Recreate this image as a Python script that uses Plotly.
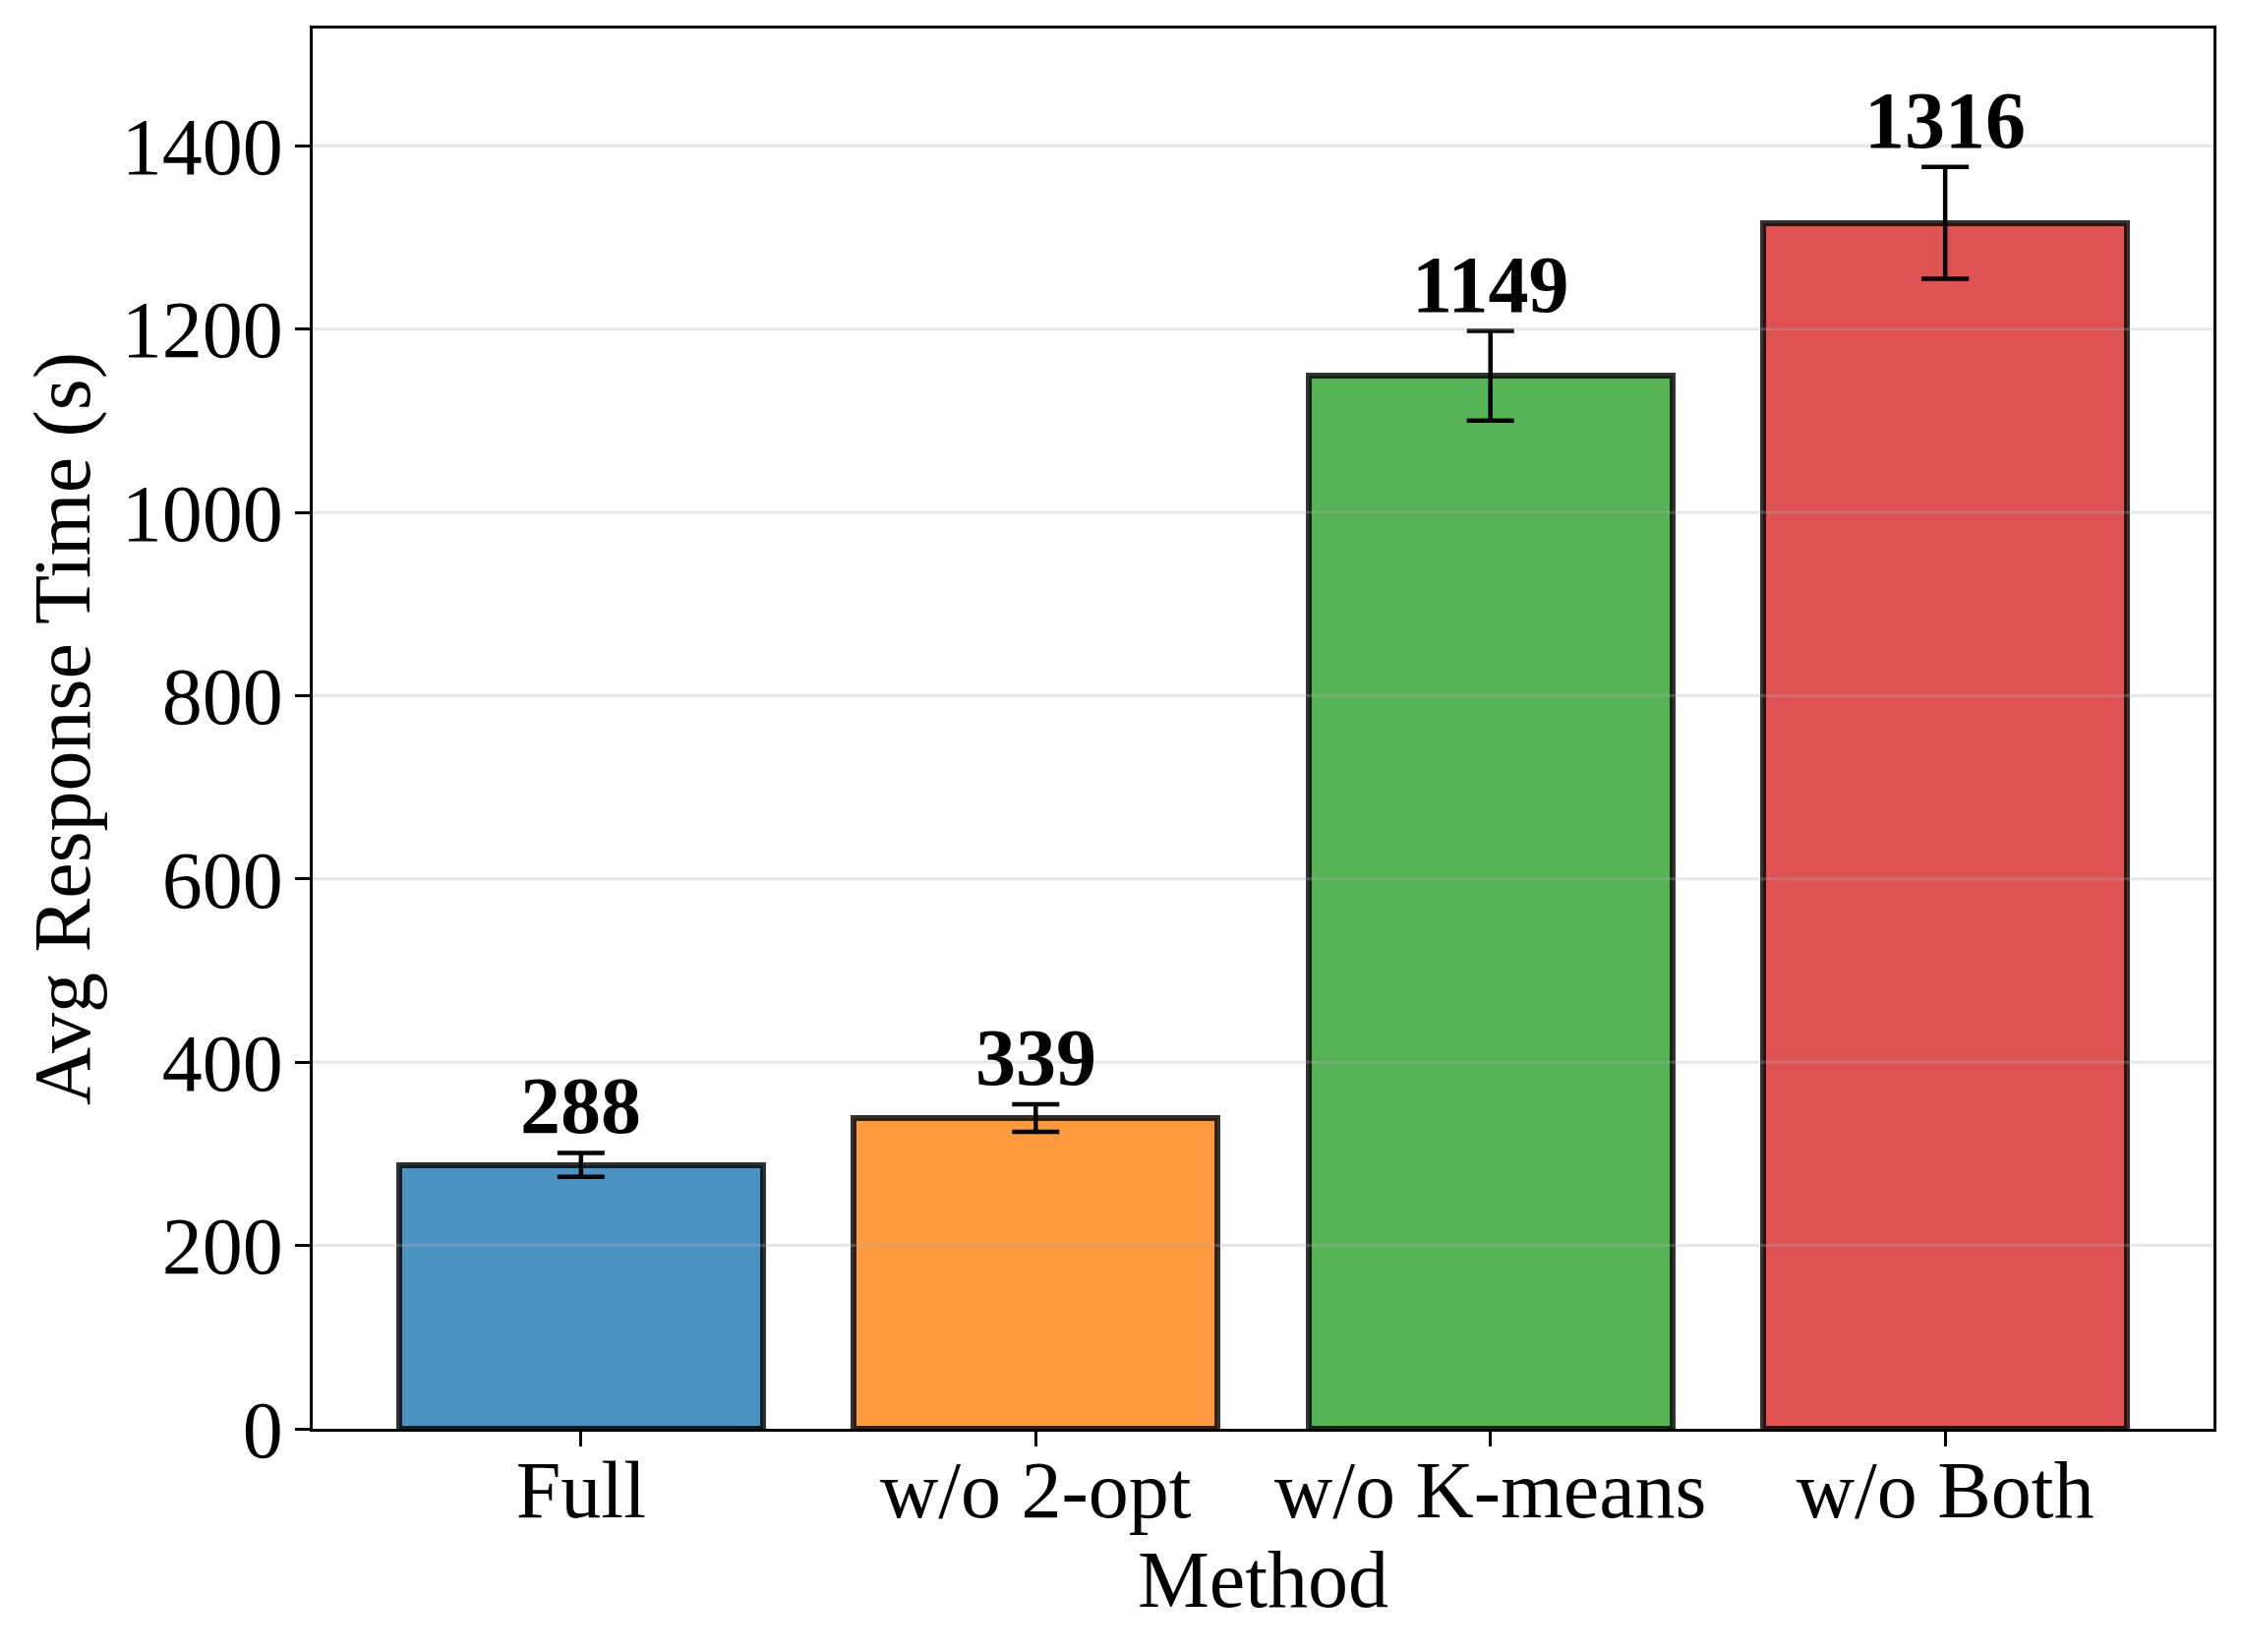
import plotly.graph_objects as go

methods = ["Full", "w/o 2-opt", "w/o K-means", "w/o Both"]
avg_time = [288, 339, 1149, 1316]
std_time = [13, 15, 49, 61]
colors = ["rgba(31,119,180,0.8)", "rgba(255,127,14,0.8)",
          "rgba(44,160,44,0.8)", "rgba(214,39,40,0.8)"]
y_ticks = [0, 200, 400, 600, 800, 1000, 1200, 1400]

FONT = "Liberation Serif"
x_idx = list(range(len(methods)))

fig = go.Figure()
fig.add_trace(go.Bar(
    x=x_idx, y=avg_time, width=0.8,
    marker=dict(color=colors, line=dict(color="rgba(0,0,0,0.8)", width=6)),
    error_y=dict(type="data", array=std_time, visible=True,
                 color="black", thickness=4.5, width=24),
    showlegend=False,
))

for xi, v, e in zip(x_idx, avg_time, std_time):
    fig.add_annotation(x=xi, y=v + e, text=f"<b>{v}</b>", showarrow=False,
                       yanchor="bottom", yshift=0,
                       font=dict(family=FONT, size=82, color="black"))

# grid drawn above the bars (as in the reference)
for t in y_ticks[1:]:
    fig.add_shape(type="line", xref="paper", x0=0, x1=1, yref="y", y0=t, y1=t,
                  line=dict(color="rgba(176,176,176,0.3)", width=3),
                  layer="above")

fig.update_layout(
    width=2280, height=1680,
    margin=dict(l=310, r=37, t=21, b=235),
    paper_bgcolor="white", plot_bgcolor="white",
    font=dict(family=FONT, size=82, color="black"),
    bargap=0,
)
fig.update_xaxes(
    range=[-0.59, 3.59], tickvals=x_idx, ticktext=methods,
    showline=True, linecolor="black", linewidth=2.5, mirror=True,
    ticks="outside", ticklen=15, tickwidth=2.5, tickcolor="black",
    showgrid=False, zeroline=False, ticklabelstandoff=-26,
    title=dict(text="Method", standoff=8, font=dict(size=82)),
    tickfont=dict(size=82),
)
fig.update_yaxes(
    range=[0, 1528], tickvals=y_ticks,
    showline=True, linecolor="black", linewidth=2.5, mirror=True,
    ticks="outside", ticklen=15, tickwidth=2.5, tickcolor="black",
    showgrid=False, zeroline=False, layer="above traces", ticklabelstandoff=-4,
    title=dict(text="Avg Response Time (s)", standoff=6, font=dict(size=82)),
    tickfont=dict(size=82),
)

fig.write_html("out.html")
